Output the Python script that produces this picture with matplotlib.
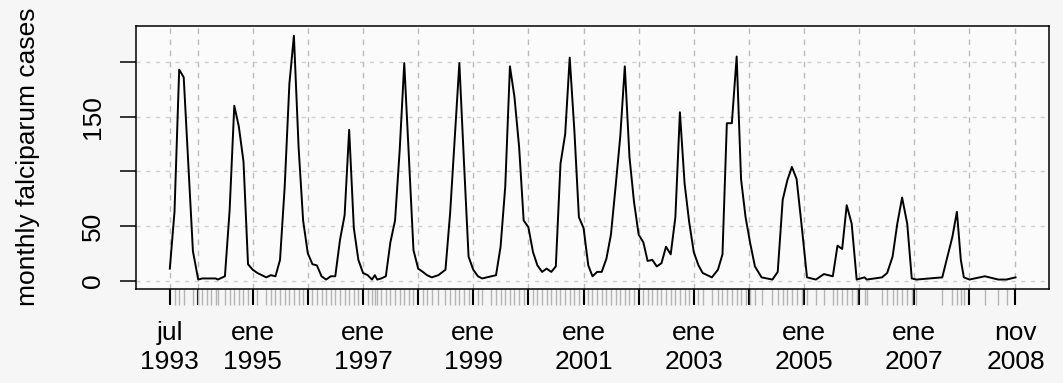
import matplotlib
matplotlib.use('Agg')
import matplotlib.pyplot as plt
import pandas as pd

# observation dates (irregular) and monthly falciparum cases
dates = [
    "1993-07-01", "1993-08-01", "1993-09-01", "1993-10-01", "1993-12-01",
    "1994-01-05", "1994-02-01", "1994-03-01", "1994-04-01", "1994-05-01", "1994-05-15",
    "1994-07-01", "1994-08-01", "1994-09-01", "1994-10-01", "1994-11-01", "1994-12-01",
    "1995-01-01", "1995-02-01", "1995-04-01", "1995-05-01", "1995-06-01",
    "1995-07-01", "1995-08-01", "1995-09-01", "1995-10-01", "1995-11-01", "1995-12-01",
    "1996-01-01", "1996-02-01", "1996-03-01", "1996-04-01", "1996-05-01", "1996-06-01",
    "1996-07-01", "1996-08-01", "1996-09-01", "1996-10-01", "1996-11-01", "1996-12-01",
    "1997-01-01", "1997-02-01", "1997-03-01", "1997-03-20", "1997-04-05", "1997-05-01", "1997-06-01",
    "1997-07-01", "1997-08-01", "1997-09-01", "1997-10-01", "1997-11-01", "1997-12-01",
    "1998-01-01", "1998-02-01", "1998-03-01", "1998-04-01", "1998-05-15",
    "1998-07-01", "1998-08-01", "1998-09-01", "1998-10-01", "1998-11-01", "1998-12-01",
    "1999-01-01", "1999-02-01", "1999-03-01", "1999-05-01", "1999-06-01",
    "1999-07-01", "1999-08-01", "1999-09-01", "1999-10-01", "1999-11-01", "1999-12-01",
    "2000-01-01", "2000-02-01", "2000-03-01", "2000-04-01", "2000-05-01", "2000-06-01",
    "2000-07-01", "2000-08-01", "2000-09-01", "2000-10-01", "2000-11-01", "2000-12-01",
    "2001-01-01", "2001-02-01", "2001-03-01", "2001-04-01", "2001-05-01", "2001-06-01",
    "2001-07-01", "2001-08-01", "2001-09-01", "2001-10-01", "2001-11-01", "2001-12-01",
    "2002-01-01", "2002-02-01", "2002-03-01", "2002-04-01", "2002-05-01", "2002-06-01",
    "2002-07-01", "2002-08-01", "2002-09-01", "2002-10-01", "2002-11-01", "2002-12-01",
    "2003-01-01", "2003-02-01", "2003-03-01", "2003-05-01", "2003-06-10",
    "2003-07-10", "2003-08-08", "2003-09-10", "2003-10-12", "2003-11-10", "2003-12-10",
    "2004-01-10", "2004-02-10", "2004-03-25", "2004-06-05",
    "2004-07-10", "2004-08-12", "2004-09-12", "2004-10-12", "2004-11-12", "2004-12-15",
    "2005-01-20", "2005-03-20", "2005-05-12",
    "2005-07-10", "2005-08-10", "2005-09-10", "2005-10-10", "2005-11-12", "2005-12-15",
    "2006-02-05", "2006-02-20", "2006-06-01",
    "2006-07-05", "2006-08-10", "2006-09-10", "2006-10-12", "2006-11-15", "2006-12-15",
    "2007-01-15", "2007-07-05", "2007-09-10", "2007-10-10", "2007-11-05", "2007-11-25",
    "2008-01-01", "2008-04-12", "2008-07-10", "2008-09-03", "2008-11-01",
]
cases = [
    11, 63, 193, 186, 27,
    1, 2, 2, 2, 2, 1,
    4, 64, 160, 141, 109, 15,
    10, 7, 3, 5, 4,
    19, 86, 180, 224, 122, 55,
    25, 15, 14, 4, 1, 4,
    4, 37, 60, 138, 48, 19,
    7, 5, 1, 5, 1, 2, 4,
    35, 55, 120, 199, 113, 28,
    11, 8, 5, 3, 5,
    10, 62, 132, 199, 107, 22,
    10, 4, 2, 4, 5,
    31, 86, 196, 168, 122, 55,
    49, 26, 14, 8, 11, 8,
    13, 107, 134, 204, 137, 58,
    48, 14, 4, 8, 8, 20,
    42, 86, 132, 196, 113, 72,
    42, 35, 18, 19, 13, 16,
    31, 24, 58, 154, 89, 54,
    26, 14, 7, 3, 10,
    24, 144, 144, 205, 93, 58,
    34, 13, 3, 1,
    8, 74, 92, 104, 93, 51,
    3, 1, 6,
    4, 32, 29, 69, 52, 1,
    3, 1, 3,
    7, 22, 52, 76, 52, 2,
    1, 3, 40, 63, 19, 3,
    1, 4, 1, 1, 3,
]

# labels shown on the major (yearly) ticks; the other ticks stay unlabeled
x_labels = {
    "1993-07-01": "jul\n1993", "1995-01-01": "ene\n1995", "1997-01-01": "ene\n1997",
    "1999-01-01": "ene\n1999", "2001-01-01": "ene\n2001", "2003-01-01": "ene\n2003",
    "2005-01-01": "ene\n2005", "2007-01-01": "ene\n2007", "2008-11-01": "nov\n2008",
}
y_ticks = [0, 50, 100, 150, 200]
y_labels = ["0", "50", "", "150", ""]

plt.rcParams['font.family'] = ['Liberation Sans', 'DejaVu Sans']

fig = plt.figure(figsize=(10.63, 3.83), dpi=100, facecolor='#f6f6f6')
ax = fig.add_axes([136 / 1063, 1 - 289.3 / 383, (1049.3 - 136) / 1063, (289.3 - 26) / 383])
ax.set_facecolor('#fbfbfb')

x = pd.to_datetime(dates)
ax.plot(x, cases, color='black', lw=1.4, zorder=3)
ax.margins(x=0.04, y=0.04)

# major ticks: first obs, each January, last obs
major = [x[0]] + list(pd.date_range('1994-01-01', '2008-01-01', freq='YS')) + [x[-1]]
ax.set_xticks(major)
ax.set_xticklabels([x_labels.get(d.strftime('%Y-%m-%d'), '') for d in major])
for lbl in ax.get_xticklabels():
    lbl.set_linespacing(1.3)
ax.set_xticks(x, minor=True)
ax.tick_params(axis='x', which='major', length=11.5, width=1.5, color='black',
               pad=11, labelsize=19)
ax.tick_params(axis='x', which='minor', length=11.5, width=1, color='#b4b4b4')

ax.set_yticks(y_ticks)
ax.set_yticklabels(y_labels, rotation=90, va='center')
ax.tick_params(axis='y', length=11.5, width=1.1, pad=11, labelsize=19)

ax.grid(axis='x', which='major', color='#bbbbbb', lw=1, linestyle=(0, (4, 4)))
ax.grid(axis='y', color='#d0d0d0', lw=1, linestyle=(0, (3, 4)))
ax.set_axisbelow(True)

for s in ax.spines.values():
    s.set_linewidth(1.1)

fig.text(28 / 1063, 1 - 157 / 383, 'monthly falciparum cases', rotation=90,
         ha='center', va='center', fontsize=19)

fig.savefig('out.png', dpi=100, facecolor=fig.get_facecolor())
